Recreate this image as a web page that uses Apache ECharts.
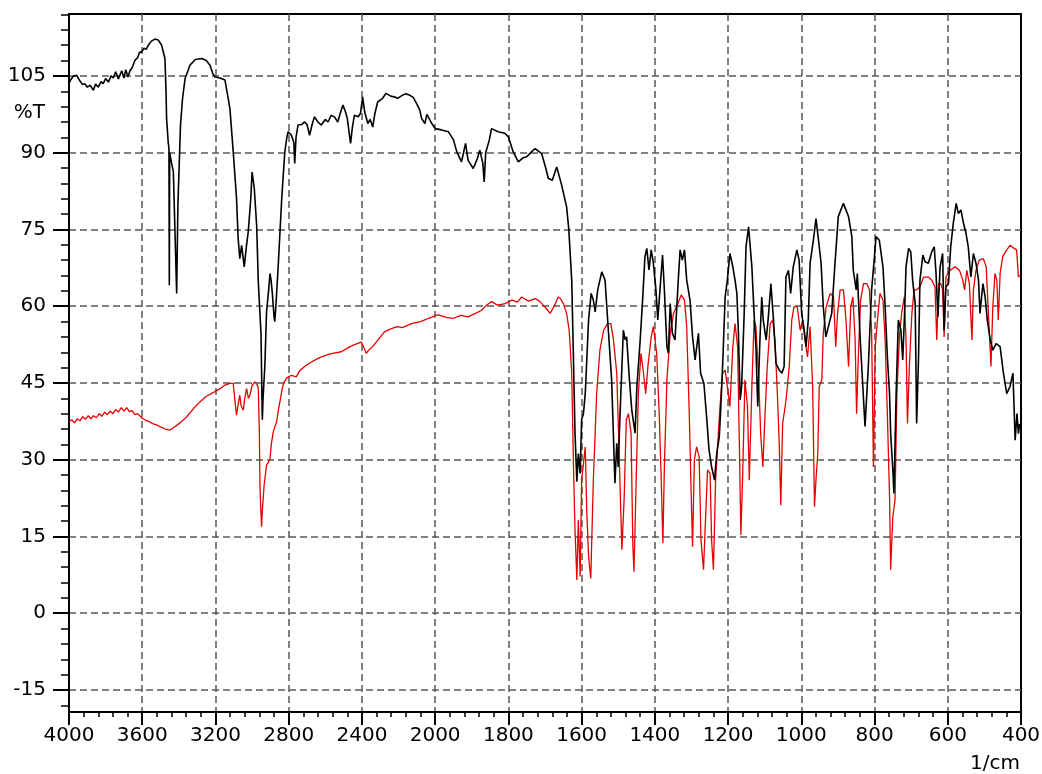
<!DOCTYPE html>
<html>
<head>
<meta charset="utf-8">
<script src="https://cdn.jsdelivr.net/npm/echarts@6/dist/echarts.min.js"></script>
<style>
html,body{margin:0;padding:0;background:#fff;}
#chart{width:1042px;height:774px;}
</style>
</head>
<body>
<div id="chart"></div>
<script>
// Y tick labels (%T)
const yTickValues = [-15, 0, 15, 30, 45, 60, 75, 90, 105];
// X tick labels (1/cm)
const xTicksHigh = [4000, 3600, 3200, 2800, 2400, 2000];
const xTicksLow = [1800, 1600, 1400, 1200, 1000, 800, 600, 400];

// Black spectrum: wavenumber (1/cm) and %T
const blackWn = [4000,3990,3975,3958,3940,3925,3914,3900,3885,3867,3855,3840,3825,3813,3800,3785,3770,3758,3745,3730,3712,3700,3690,3678,3667,3655,3640,3625,3615,3603,3590,3578,3567,3550,3531,3512,3494,3476,3470,3467,3458,3454,3452,3450,3440,3430,3420,3412,3405,3398,3391,3380,3366,3339,3310,3275,3250,3230,3215,3203,3175,3148,3130,3121,3103,3085,3076,3067,3057,3043,3030,3021,3007,3000,2995,2988,2975,2966,2951,2946,2944,2940,2930,2921,2910,2902,2896,2890,2880,2876,2870,2857,2838,2821,2810,2803,2785,2772,2767,2760,2749,2730,2713,2700,2686,2672,2659,2640,2622,2600,2585,2568,2550,2532,2520,2504,2490,2480,2462,2452,2441,2420,2408,2396,2385,2368,2355,2341,2330,2314,2290,2268,2240,2220,2205,2180,2160,2138,2120,2101,2085,2074,2056,2045,2038,2020,2000,1985,1964,1950,1941,1928,1917,1910,1896,1885,1878,1870,1866,1862,1859,1852,1846,1828,1810,1800,1787,1773,1760,1750,1735,1727,1709,1698,1691,1680,1668,1655,1641,1635,1627,1622,1618,1613,1609,1604,1600,1595,1590,1581,1574,1568,1563,1556,1545,1536,1527,1518,1513,1509,1504,1500,1495,1486,1481,1477,1470,1463,1454,1449,1440,1434,1427,1422,1416,1410,1404,1397,1392,1386,1379,1374,1367,1363,1358,1352,1345,1336,1331,1325,1319,1313,1304,1297,1290,1281,1275,1266,1258,1252,1245,1237,1231,1224,1220,1215,1208,1202,1195,1187,1181,1176,1172,1167,1163,1156,1151,1144,1135,1129,1124,1119,1113,1108,1104,1096,1090,1083,1076,1069,1060,1053,1047,1042,1035,1029,1022,1012,1006,999,992,987,981,976,967,960,953,946,940,933,926,917,908,899,885,871,862,858,850,847,839,832,826,817,808,801,796,787,777,771,765,759,756,750,747,741,735,728,723,718,714,707,701,696,689,685,680,676,668,662,653,644,637,632,627,621,614,610,605,598,592,585,577,571,564,557,550,544,537,530,523,516,512,504,498,492,484,477,468,457,448,439,430,422,419,416,411,407,404];
const blackT = [103.5,104.3,105.0,105.1,104.0,103.3,103.5,102.8,103.2,102.2,103.4,102.8,103.9,103.5,104.5,103.8,105.0,104.6,105.8,104.4,106.0,104.6,106.2,104.8,106.0,106.6,108.0,108.6,109.6,109.7,110.4,110.2,111.0,111.8,112.2,112.0,111.0,108.4,102,96.7,92,90.8,64.1,90,88,86.3,86,62.5,80,87.6,95.4,100.5,104.5,107.1,108.2,108.4,108,107.1,105.5,104.8,104.6,104.2,100.5,98.6,90.2,81.1,73.2,69.3,71.9,67.7,72,74.5,81.1,86.2,85,83,75.8,64.8,54.4,42,37.8,42,48.5,58.9,63,66.4,65,62.8,58,57,60,68,81.1,90.2,93,94.1,93.4,92,87.9,93,95.4,95.5,96,95.5,93.4,95.5,97,96,95.4,96.5,96,97.3,97,96,97.5,99.3,98,96.7,91.8,95,97.3,97,97.7,100.9,98,95.7,96.5,95,97.5,99.9,100.5,101.6,101,100.9,100.6,101.2,101.5,101.2,100.8,99.6,98.4,96.7,95.7,97.5,97.7,95.8,94.7,94.5,94.1,92.5,90.2,88.2,91.8,88.5,86.9,88.8,90.5,88,84.3,90,90.2,92.5,94.7,94.1,93.8,93.1,90.2,88.2,89,89.2,90.3,90.8,89.8,87,85,84.6,87.2,83.8,79.4,75,65.1,48.8,35.2,25.7,31.2,27.3,37.8,39,43,57.3,62.5,61.2,58.9,63.2,66.7,65.1,55.3,45.6,34.5,25.4,33.2,28.6,39,55.3,53.4,54,46.2,39.7,35.2,44.3,53.4,60.5,69.7,71.3,67.1,71,68.4,63.2,57.3,63.2,70,63.2,52.1,50.8,60.5,54.7,53.4,65.1,71,69,71,65.1,61.2,54,49.5,54.7,46.9,44.9,37.8,31.9,28.6,26,31.2,34.5,40,48.2,61.8,65.1,70.3,67.7,65.1,62.5,55.3,41.7,44.3,58.6,71.6,75.5,67.7,58.6,52.1,40.4,53.4,61.8,57.3,53.4,57.9,64.4,57.3,48.8,47.5,46.9,48.2,65.7,67,62.5,67.7,71,69,58.6,55.3,52.1,57.3,68.4,72.9,77.1,72.9,68.4,59.9,54,56,58.6,68.4,77.5,80.1,77.5,73.6,67,63.2,66.4,53.4,44.3,36.5,48.2,63.2,69,73.6,72.9,67.7,59.9,50.1,42.9,35.1,28,23.4,42.9,57.3,55.3,49.5,58.6,67.7,71.3,70.6,65.1,60.5,37.1,49.5,65.1,70,68.7,68.4,70.6,71.6,66.4,57.9,67.7,70.3,55.3,63.8,64.4,71.6,76.2,80.1,78.1,78.8,76.2,74.2,71.6,65.7,70.3,68.4,65.1,58.6,64.4,61.8,57.3,53.4,51.4,52.7,52.1,46.9,42.9,44.3,46.9,40.4,33.8,39,35.1,37];

// Red spectrum: wavenumber (1/cm) and %T
const redWn = [4000,3985,3970,3955,3940,3925,3910,3895,3880,3867,3850,3835,3820,3805,3790,3776,3760,3745,3730,3715,3700,3685,3670,3655,3640,3625,3603,3585,3560,3540,3521,3500,3475,3448,3420,3390,3357,3320,3285,3250,3203,3170,3148,3120,3103,3095,3085,3075,3067,3060,3048,3040,3030,3020,3012,3000,2985,2970,2966,2960,2957,2952,2948,2944,2934,2921,2910,2902,2895,2884,2866,2855,2848,2835,2824,2810,2785,2758,2740,2713,2680,2650,2622,2590,2560,2513,2470,2440,2404,2390,2377,2360,2341,2310,2277,2240,2205,2180,2129,2080,2038,2020,2000,1991,1970,1951,1930,1910,1890,1873,1860,1846,1830,1809,1790,1775,1764,1745,1727,1715,1705,1696,1686,1675,1664,1658,1650,1641,1634,1627,1622,1618,1613,1609,1604,1600,1590,1586,1581,1575,1568,1563,1559,1550,1540,1529,1520,1513,1504,1498,1490,1484,1478,1472,1465,1460,1457,1451,1445,1438,1431,1425,1419,1410,1404,1395,1388,1383,1378,1374,1367,1358,1349,1337,1328,1319,1313,1306,1301,1297,1292,1286,1279,1274,1267,1261,1256,1249,1245,1240,1234,1226,1222,1215,1208,1202,1195,1187,1181,1174,1169,1165,1160,1154,1147,1142,1135,1129,1124,1117,1111,1105,1099,1093,1085,1078,1072,1065,1060,1056,1051,1044,1040,1033,1026,1020,1011,1003,996,990,983,976,969,964,960,955,951,944,940,932,921,912,906,901,894,885,878,871,865,859,853,849,844,838,830,821,814,808,803,798,792,785,777,771,765,759,756,750,744,739,732,726,719,714,710,705,698,692,685,676,666,653,644,635,630,625,619,614,610,605,594,580,568,559,554,548,541,534,530,523,514,503,495,489,482,477,471,466,462,457,450,439,430,419,412,407,404];
const redT = [37.4,37.8,37.2,38.0,37.6,38.4,37.9,38.6,38.0,38.6,38.2,39.0,38.5,39.3,38.8,39.5,39.0,39.8,39.3,40.2,39.5,40.2,39.4,39.6,38.8,39.0,38.2,37.8,37.4,37.0,36.8,36.4,36,35.8,36.5,37.3,38.4,40,41.3,42.4,43.3,44,44.6,44.9,44.9,42,38.7,41,42.6,40.5,39.7,42,43.9,42,42.6,44.5,45.2,44.5,43.9,35,25.1,20,16.9,20,25.1,29,29.5,30.3,33,35.5,37.4,40,41.3,44,45.2,46,46.5,46.2,47.4,48.2,49,49.6,50.1,50.5,50.8,51.1,52,52.5,53,52,50.8,51.5,52.1,53.5,55,55.6,56,55.8,56.6,57,57.6,57.8,58.2,58.3,57.8,57.6,58.2,57.9,58.6,59.2,60.2,60.9,60.2,60.5,61.2,60.8,61.8,61,61.5,61,60.2,59.5,58.6,60,61.8,61.5,60.5,58.6,55.3,46.9,28,16.3,6.5,18.2,7.2,26,32.5,20.2,11.1,6.8,26,35.2,42.9,51.4,55.3,56.6,56.6,53.4,46.9,32.5,12.4,22.1,37.8,39,35.2,13,8.1,26,42.9,50.8,46.9,42.9,48.2,54,56,50.8,39,27.3,13.7,28.6,45.6,54.7,58.6,60.5,62.2,61.2,56,39,24.1,13,30,32.5,30.6,14.3,8.5,19.5,28,27.3,14.3,8.5,26,35.8,40.4,46.9,47.5,44.3,40.4,52.1,56.6,52.1,32.5,15.3,27.3,45.6,40.4,26,44.3,57.3,56,46.9,35.2,28.6,39,48.2,56.6,57.3,53.4,42.3,32.5,21.1,37.1,40.4,42.9,48.2,57.3,59.9,59.9,55.3,57.3,53.4,50.1,56,44.3,20.8,26,31.2,44.3,45.6,54.7,59.9,62.5,61.8,52.1,58.6,63.2,63.2,57.3,48.2,59.9,61.8,53.4,39,50.8,61.2,64.4,64.4,63.2,55.3,28.6,52.1,57.3,62.5,61.2,53.4,39,22.8,8.5,18.9,22.1,42.9,54,58.6,61.8,53.4,37.1,48.2,58.6,63.2,63.2,63.8,65.7,65.7,65.1,63.8,53.4,64.4,64.4,63.2,54,65.7,67,67.7,67,65.1,63.2,67,64.4,53.4,63.2,67,69,69.3,67.7,58.6,48.2,59.9,66.4,65.1,57.3,66.4,69.7,71,71.9,71.3,71,65.7,66];

const Y_MIN = -19.3, Y_MAX = 117.1;
const FONT = 'DejaVu Sans';

function pairs(wn, t, hi) {
  const out = [];
  for (let i = 0; i < wn.length; i++) {
    if (hi ? wn[i] >= 2000 : wn[i] <= 2000) out.push([wn[i], t[i]]);
  }
  return out;
}

const minorY = [];
for (let v = -18; v <= 117; v += 3) if (v % 15 !== 0) minorY.push(v);

const gridLine = {show: true, lineStyle: {color: '#585858', width: 1.5, type: [7, 4]}};
const labelStyle = {fontSize: 20, fontFamily: FONT, color: '#000'};

function xAxisDef(gridIndex, min, max, interval, ticks, hideLabel) {
  return {
    gridIndex, type: 'value', min, max, interval, inverse: true,
    axisLine: {show: true, onZero: false, lineStyle: {color: '#000', width: 2}},
    axisTick: {show: true, length: 13, lineStyle: {color: '#000', width: 2}},
    minorTick: {show: true, splitNumber: 5, length: 5, lineStyle: {color: '#000', width: 1.5}},
    axisLabel: Object.assign({margin: 14, formatter: v => (ticks.indexOf(v) >= 0 && v !== hideLabel) ? String(v) : ''}, labelStyle),
    splitLine: Object.assign({showMinLine: false, showMaxLine: gridIndex === 2}, gridLine),
    minorSplitLine: {show: false}
  };
}

const chart = echarts.init(document.getElementById('chart'), null, {renderer: 'canvas'});
const option = {
  animation: false,
  backgroundColor: '#fff',
  grid: [
    {left: 69, top: 14, width: 952, height: 698, show: true, borderColor: '#000', borderWidth: 2, backgroundColor: 'transparent', containLabel: false, outerBoundsMode: 'none'},
    {left: 69, top: 14, width: 366.15, height: 698, containLabel: false, outerBoundsMode: 'none'},
    {left: 435.15, top: 14, width: 585.85, height: 698, containLabel: false, outerBoundsMode: 'none'}
  ],
  xAxis: [
    {gridIndex: 0, type: 'value', min: 0, max: 1, show: false},
    xAxisDef(1, 2000, 4000, 400, xTicksHigh, null),
    xAxisDef(2, 400, 2000, 200, xTicksLow, 2000)
  ],
  yAxis: [
    {
      gridIndex: 0, type: 'value', min: Y_MIN, max: Y_MAX, position: 'left',
      axisLine: {show: true, onZero: false, lineStyle: {color: '#000', width: 2}},
      axisTick: {show: true, length: 16, customValues: yTickValues, lineStyle: {color: '#000', width: 2}},
      axisLabel: Object.assign({margin: 23, customValues: yTickValues, formatter: v => String(v)}, labelStyle),
      splitLine: gridLine
    },
    {
      gridIndex: 1, type: 'value', min: Y_MIN, max: Y_MAX, position: 'left',
      axisLine: {show: false},
      axisTick: {show: true, length: 8, customValues: minorY, lineStyle: {color: '#000', width: 1.5}},
      axisLabel: {show: false},
      splitLine: {show: false}
    },
    {
      gridIndex: 2, type: 'value', min: Y_MIN, max: Y_MAX, show: false
    }
  ],
  graphic: [
    {type: 'text', x: 45, y: 113, style: {text: '%T', fontSize: 20, fontFamily: FONT, fill: '#000', align: 'right', verticalAlign: 'middle', textAlign: 'right', textVerticalAlign: 'middle'}},
    {type: 'text', x: 1020, y: 764, style: {text: '1/cm', fontSize: 20, fontFamily: FONT, fill: '#000', align: 'right', verticalAlign: 'middle', textAlign: 'right', textVerticalAlign: 'middle'}}
  ],
  series: [
    {type: 'line', xAxisIndex: 1, yAxisIndex: 1, data: pairs(redWn, redT, true), showSymbol: false, symbol: 'none', lineStyle: {color: '#e60000', width: 1.3}, z: 2},
    {type: 'line', xAxisIndex: 2, yAxisIndex: 2, data: pairs(redWn, redT, false), showSymbol: false, symbol: 'none', lineStyle: {color: '#e60000', width: 1.3}, z: 2},
    {type: 'line', xAxisIndex: 1, yAxisIndex: 1, data: pairs(blackWn, blackT, true), showSymbol: false, symbol: 'none', lineStyle: {color: '#000', width: 1.6}, z: 3},
    {type: 'line', xAxisIndex: 2, yAxisIndex: 2, data: pairs(blackWn, blackT, false), showSymbol: false, symbol: 'none', lineStyle: {color: '#000', width: 1.6}, z: 3}
  ]
};
chart.setOption(option);
</script>
</body>
</html>
